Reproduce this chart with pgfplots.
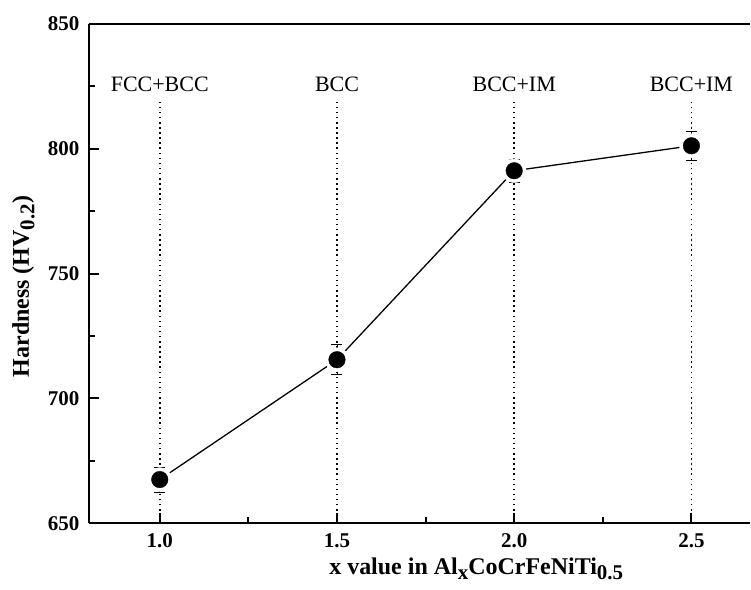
\documentclass[border=0pt]{standalone}
\usepackage{fontspec}
\setmainfont{Liberation Serif}
\usepackage{pgfplots}
\pgfplotsset{compat=1.18}
\begin{document}
\begin{tikzpicture}
\begin{axis}[
  name=ax,
  scale only axis,
  width=662pt, height=500pt,
  xmin=0.8, xmax=2.665, ymin=650, ymax=850,
  axis x line*=box, axis y line*=left,
  xtick pos=bottom,
  axis line style={line width=2.2pt},
  xtick={1.0,1.5,2.0,2.5}, minor xtick={0.75,1.25,1.75,2.25},
  ytick={650,700,750,800,850}, minor ytick={675,725,775,825},
  tick align=inside,
  major tick length=10pt, minor tick length=6pt,
  every tick/.style={line width=2pt, black},
  tick label style={font=\bfseries\fontsize{21}{22}\selectfont},
  /pgf/number format/assume math mode=true,
  xticklabel style={/pgf/number format/.cd, fixed, fixed zerofill, precision=1, assume math mode=true},
  yticklabel style={/pgf/number format/.cd, fixed, assume math mode=true},
  xticklabel shift=7pt, yticklabel shift=6pt,
  xlabel={\bfseries\fontsize{24}{25}\selectfont x value in Al\raisebox{-0.5ex}{\fontsize{21}{21}\selectfont x}CoCrFeNiTi\raisebox{-0.5ex}{\fontsize{21}{21}\selectfont 0.5}},
  ylabel={\bfseries\fontsize{24}{25}\selectfont Hardness (HV\raisebox{-0.5ex}{\fontsize{21}{21}\selectfont 0.2})},
  xlabel style={at={(axis description cs:0.586,-0.102)}, anchor=base},
  ylabel style={at={(axis description cs:-0.099,0.474)}, anchor=center},
  clip=false,
]
% dotted phase guide lines
\addplot[black, line width=1.5pt, dash pattern=on 1.5pt off 3.6pt] coordinates {(1.0,651) (1.0,820)};
\addplot[black, line width=1.5pt, dash pattern=on 1.5pt off 3.6pt] coordinates {(1.5,651) (1.5,820)};
\addplot[black, line width=1.5pt, dash pattern=on 1.5pt off 3.6pt] coordinates {(2.0,651) (2.0,820)};
\addplot[black, line width=1.5pt, dash pattern=on 1.5pt off 3.6pt] coordinates {(2.5,651) (2.5,820)};
% data line
\addplot[black, line width=1.3pt, no marks]
  coordinates {(1.0,667.5) (1.5,715.5) (2.0,791.2) (2.5,801.2)};
% white rims round the markers
\addplot[white, only marks, mark=*, mark size=12pt,
  mark options={fill=white, draw=white}]
  coordinates {(1.0,667.5) (1.5,715.5) (2.0,791.2) (2.5,801.2)};
% error bars
\addplot[black, draw=none, no marks,
  error bars/.cd, y dir=both, y explicit,
  error bar style={line width=0.8pt, black, solid},
  error mark options={rotate=90, mark size=5.5pt, line width=0.8pt, black}]
  coordinates {
  (1.0,667.5) +- (0,5)
  (1.5,715.5) +- (0,6)
  (2.0,791.2) +- (0,4.6)
  (2.5,801.2) +- (0,5.8)
  };
% markers
\addplot[black, only marks, mark=*, mark size=8.3pt,
  mark options={fill=black, draw=black}]
  coordinates {(1.0,667.5) (1.5,715.5) (2.0,791.2) (2.5,801.2)};
\node[font=\fontsize{22}{22}\selectfont] at (axis cs:1.0,826) {FCC+BCC};
\node[font=\fontsize{22}{22}\selectfont] at (axis cs:1.5,826) {BCC};
\node[font=\fontsize{22}{22}\selectfont] at (axis cs:2.0,826) {BCC+IM};
\node[font=\fontsize{22}{22}\selectfont] at (axis cs:2.5,826) {BCC+IM};
\end{axis}
\path ([xshift=-89pt,yshift=-66pt]ax.south west) rectangle ([yshift=24pt]ax.north east);
\end{tikzpicture}
\end{document}
